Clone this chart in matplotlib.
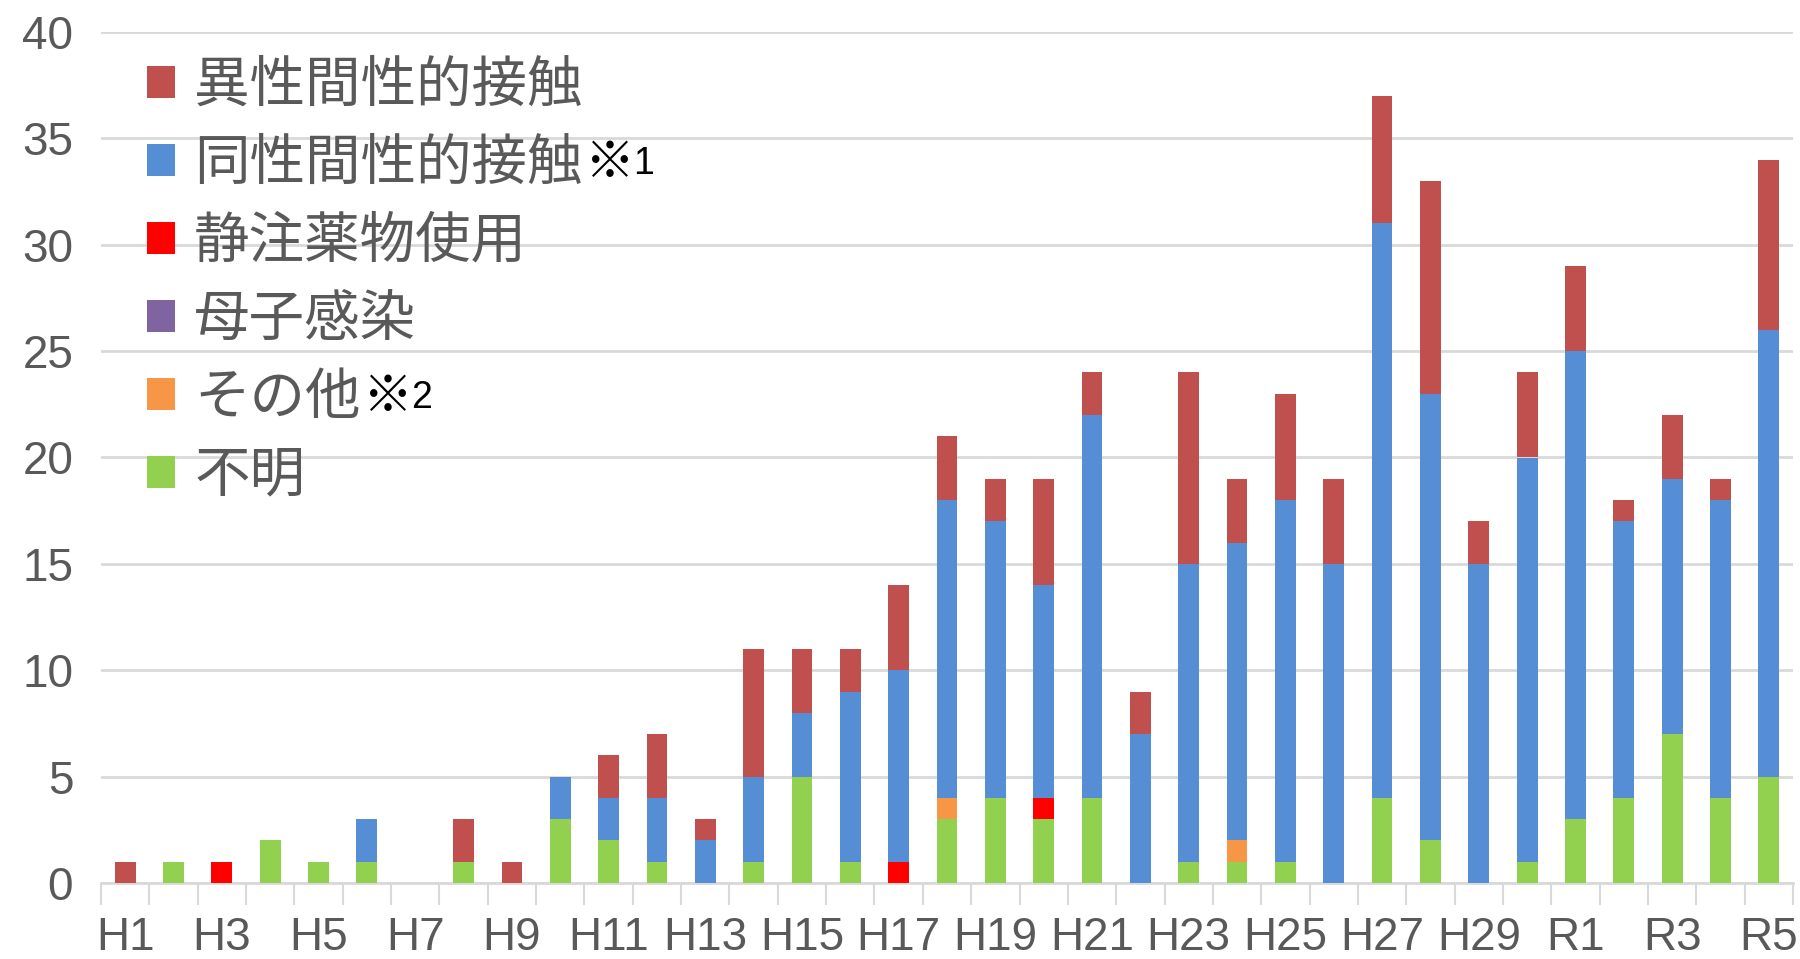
import matplotlib
matplotlib.use('Agg')
import matplotlib.pyplot as plt
import numpy as np
from matplotlib.patches import Patch

# =========================
# DATA
# =========================
years = ['H' + str(i) for i in range(1, 31)] + ['R' + str(i) for i in range(1, 6)]

unknown = [0, 1, 0, 2, 1, 1, 0, 1, 0, 3, 2, 1, 0, 1, 5, 1, 0, 3, 4, 3,
           4, 0, 1, 1, 1, 0, 4, 2, 0, 1, 3, 4, 7, 4, 5]
other = [0, 0, 0, 0, 0, 0, 0, 0, 0, 0, 0, 0, 0, 0, 0, 0, 0, 1, 0, 0,
         0, 0, 0, 1, 0, 0, 0, 0, 0, 0, 0, 0, 0, 0, 0]
mother = [0] * 35
drug = [0, 0, 1, 0, 0, 0, 0, 0, 0, 0, 0, 0, 0, 0, 0, 0, 1, 0, 0, 1,
        0, 0, 0, 0, 0, 0, 0, 0, 0, 0, 0, 0, 0, 0, 0]
homo = [0, 0, 0, 0, 0, 2, 0, 0, 0, 2, 2, 3, 2, 4, 3, 8, 9, 14, 13, 10,
        18, 7, 14, 14, 17, 15, 27, 21, 15, 19, 22, 13, 12, 14, 21]
hetero = [1, 0, 0, 0, 0, 0, 0, 2, 1, 0, 2, 3, 1, 6, 3, 2, 4, 3, 2, 5,
          2, 2, 9, 3, 5, 4, 6, 10, 2, 4, 4, 1, 3, 1, 8]

# bottom -> top
series = [
    ('不明', unknown, '#92D050'),
    ('その他', other, '#F79646'),
    ('母子感染', mother, '#8064A2'),
    ('静注薬物使用', drug, '#FF0000'),
    ('同性間性的接触', homo, '#558ED5'),
    ('異性間性的接触', hetero, '#C0504D'),
]

# =========================
# PLOT
# =========================
plt.rcParams['font.family'] = ['Liberation Sans', 'Noto Sans CJK JP']
grey = '#595959'

fig = plt.figure(figsize=(18, 9.59), dpi=100)
ax = fig.add_axes([101 / 1800, 1 - 883 / 959, 1692 / 1800, (883 - 32) / 959])

x = np.arange(len(years))
bottom = np.zeros(len(years))
for name, vals, col in series:
    ax.bar(x, vals, width=0.43, bottom=bottom, color=col, linewidth=0, zorder=3)
    bottom += np.array(vals)

ax.set_xlim(-0.5, len(years) - 0.5)
ax.set_ylim(0, 40)
ax.set_yticks(range(0, 41, 5))
ax.grid(axis='y', color='#D9D9D9', linewidth=2, zorder=0)

ax.set_xticks(x[::2])
ax.set_xticklabels(years[::2])
ax.set_xticks(np.arange(-0.5, len(years), 1), minor=True)
ax.tick_params(axis='x', which='major', length=0, pad=24, labelsize=33, labelcolor=grey)
ax.tick_params(axis='x', which='minor', length=16, width=1.5, color='#D9D9D9')
ax.tick_params(axis='y', length=0, pad=20, labelsize=33, labelcolor=grey)

for s in ['top', 'right', 'left']:
    ax.spines[s].set_visible(False)
ax.spines['bottom'].set_color('#D9D9D9')
ax.spines['bottom'].set_linewidth(2)

handles = [Patch(facecolor=col, label=name) for name, vals, col in series[::-1]]
leg = fig.legend(handles=handles, loc='upper left', bbox_to_anchor=(147 / 1800, 1 - 57 / 959),
                 frameon=False, prop={'family': 'Noto Sans CJK JP', 'size': 40},
                 handlelength=0.5, handleheight=0.5, handletextpad=0.35,
                 labelspacing=0.37, borderpad=0, borderaxespad=0)
for t in leg.get_texts():
    t.set_color(grey)

# footnote marks after two legend labels
fig.canvas.draw()
r = fig.canvas.get_renderer()
inv = fig.transFigure.inverted()
for idx, num in [(1, '1'), (4, '2')]:
    bb = leg.get_texts()[idx].get_window_extent(r)
    x0, y0 = inv.transform((bb.x1 + 2, (bb.y0 + bb.y1) / 2))
    t1 = fig.text(x0, y0, '※', fontsize=36, family='Noto Sans CJK JP', color='black',
                  va='center', ha='left')
    bb2 = t1.get_window_extent(r)
    x1, _ = inv.transform((bb2.x1 - 2, 0))
    fig.text(x1, y0, num, fontsize=27, color='black', va='center', ha='left')

fig.savefig('out.png', dpi=100)
